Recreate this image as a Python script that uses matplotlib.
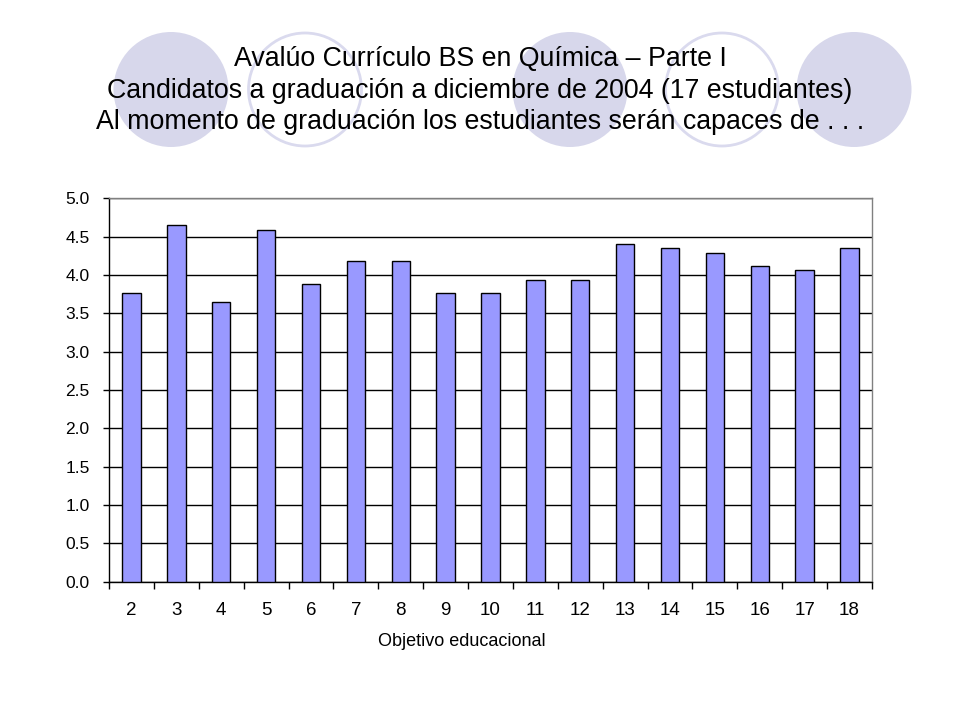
import matplotlib
matplotlib.use('Agg')
import matplotlib.pyplot as plt
from matplotlib.patches import Ellipse

# Data (mean score per objective, 17 students)
objectives = ['2', '3', '4', '5', '6', '7', '8', '9', '10', '11', '12', '13', '14', '15', '16', '17', '18']
scores = [3.76, 4.65, 3.65, 4.59, 3.88, 4.18, 4.18, 3.76, 3.76, 3.94, 3.94, 4.41, 4.35, 4.29, 4.12, 4.06, 4.35]
y_ticks = [0.0, 0.5, 1.0, 1.5, 2.0, 2.5, 3.0, 3.5, 4.0, 4.5, 5.0]

title_lines = ['Avalúo Currículo BS en Química – Parte I',
               'Candidatos a graduación a diciembre de 2004 (17 estudiantes)',
               'Al momento de graduación los estudiantes serán capaces de . . .']

plt.rcParams['font.family'] = ['Liberation Sans', 'DejaVu Sans']

W, H = 960, 720
fig = plt.figure(figsize=(9.6, 7.2), dpi=100)

# decorative circles behind the title (figure pixel coords)
bg = fig.add_axes([0, 0, 1, 1])
bg.set_xlim(0, W)
bg.set_ylim(H, 0)
bg.axis('off')
circle_x = [171, 305, 570, 722, 854]
circle_filled = [True, False, True, False, True]
for cx, filled in zip(circle_x, circle_filled):
    if filled:
        bg.add_patch(Ellipse((cx, 89.5), 115, 115, facecolor='#D7D7EB', edgecolor='none'))
    else:
        bg.add_patch(Ellipse((cx, 89.5), 113, 113, facecolor='white', edgecolor='#DADAEE', linewidth=2))

for i, line in enumerate(title_lines):
    bg.text(480, 59 + i * 31.5, line, ha='center', va='center', fontsize=19.3, color='black')

# bar chart
ax = fig.add_axes([109 / W, 1 - 581.5 / H, (872 - 109) / W, (581.5 - 198.3) / H])
x = range(len(objectives))
ax.bar(x, scores, width=0.41, color='#9999FF', edgecolor='black', linewidth=1, zorder=3)

ax.set_ylim(0, 5.0)
ax.set_xlim(-0.5, len(objectives) - 0.5)
ax.set_yticks(y_ticks)
ax.set_yticklabels([f'{v:.1f}' for v in y_ticks], fontsize=12.5)
ax.yaxis.grid(True, color='black', linewidth=1, zorder=0)
ax.set_axisbelow(True)

ax.set_xticks(list(x))
ax.set_xticklabels(objectives, fontsize=13.5)
ax.set_xticks([i - 0.5 for i in range(len(objectives) + 1)], minor=True)
ax.tick_params(axis='x', which='major', length=0, pad=15)
ax.tick_params(axis='x', which='minor', length=5, width=1, direction='out', color='black')
ax.tick_params(axis='y', length=4, width=1, direction='out', pad=10)

for side in ['left', 'bottom']:
    ax.spines[side].set_color('black')
    ax.spines[side].set_linewidth(1)
for side in ['top', 'right']:
    ax.spines[side].set_color('#808080')
    ax.spines[side].set_linewidth(1)

ax.set_xlabel('Objetivo educacional', fontsize=13)
ax.xaxis.set_label_coords((462 - 109) / (872 - 109), -(633 - 581.5) / (581.5 - 198.3))

fig.savefig('out.png', dpi=100, facecolor='white')
